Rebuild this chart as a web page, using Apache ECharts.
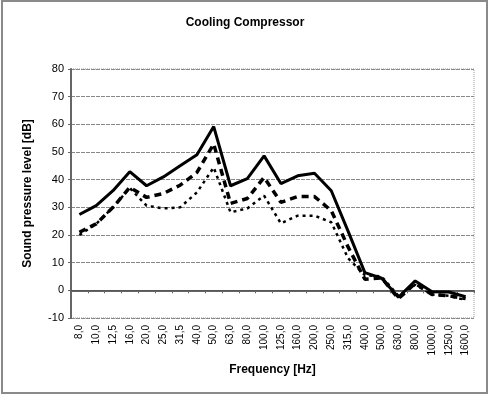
<!DOCTYPE html>
<html>
<head>
<meta charset="utf-8">
<script src="https://cdn.jsdelivr.net/npm/echarts@6/dist/echarts.min.js"></script>
<style>
html,body{margin:0;padding:0;background:#fff;}
#chart{width:490px;height:396px;}
</style>
</head>
<body>
<div id="chart"></div>
<script>
var categories = ['8,0','10,0','12,5','16,0','20,0','25,0','31,5','40,0','50,0','63,0','80,0','100,0','125,0','160,0','200,0','250,0','315,0','400,0','500,0','630,0','800,0','1000,0','1250,0','1600,0'];
var solidSeries = [27.4, 30.6, 36, 42.9, 37.8, 41, 45, 49, 59.2, 37.8, 40.4, 48.6, 38.6, 41.4, 42.3, 36, 21.4, 6.4, 4.4, -2.5, 3.4, -0.5, -0.6, -2.3];
var dashedSeries = [21, 24, 30, 37.2, 33.6, 35, 38, 42.6, 52.9, 31.4, 33.2, 40.8, 31.8, 33.9, 33.9, 28.8, 15.7, 4, 4.5, -3, 2.5, -1.5, -2, -3];
var dottedSeries = [20, 24, 30, 37, 30.6, 29.6, 30, 35.4, 44.4, 28.2, 29.6, 34.2, 24.2, 27, 27, 24.6, 11.6, 5.5, 5, -2, 2, -1.5, -2, -3.5];
var yTicks = {min: -10, max: 80, interval: 10};

var chart = echarts.init(document.getElementById('chart'), null, {renderer: 'canvas'});
var font = 'Liberation Sans, Arial, sans-serif';
chart.setOption({
  animation: false,
  backgroundColor: '#fff',
  title: {
    text: 'Cooling Compressor',
    left: 'center',
    top: 12,
    textStyle: {fontFamily: font, fontSize: 12, fontWeight: 'bold', color: '#000'}
  },
  graphic: [{
    type: 'rect',
    shape: {x: 2, y: 1, width: 485, height: 392},
    style: {fill: 'none', stroke: '#8a8a8a', lineWidth: 2},
    silent: true
  }],
  grid: {
    left: 71, right: 16, top: 69, bottom: 78,
    show: true, borderColor: '#999', borderWidth: 1, borderType: 'dotted'
  },
  xAxis: {
    type: 'category',
    data: categories,
    boundaryGap: true,
    name: 'Frequency [Hz]',
    nameLocation: 'middle',
    nameGap: 45,
    nameTextStyle: {fontFamily: font, fontSize: 12, fontWeight: 'bold', color: '#000'},
    axisLine: {lineStyle: {color: '#666', width: 2}},
    axisTick: {show: true, interval: 0, length: 3, lineStyle: {color: '#666'}},
    axisLabel: {interval: 0, rotate: 90, fontFamily: font, fontSize: 10, color: '#000', margin: 7},
    splitLine: {show: false}
  },
  yAxis: {
    type: 'value',
    min: yTicks.min, max: yTicks.max, interval: yTicks.interval,
    name: 'Sound pressure level [dB]',
    nameLocation: 'middle',
    nameGap: 37,
    nameTextStyle: {fontFamily: font, fontSize: 12, fontWeight: 'bold', color: '#000'},
    axisLine: {show: true, lineStyle: {color: '#666', width: 2}},
    axisTick: {show: true, length: 3, lineStyle: {color: '#666'}},
    axisLabel: {fontFamily: font, fontSize: 11, color: '#000', margin: 7},
    splitLine: {show: true, lineStyle: {color: '#888', width: 1, type: [4, 1]}}
  },
  series: [
    {
      type: 'line', data: solidSeries, symbol: 'none',
      lineStyle: {color: '#000', width: 3, type: 'solid'},
      z: 5,
      markLine: {
        silent: true, symbol: 'none', label: {show: false},
        lineStyle: {color: '#555', width: 1, type: 'solid'},
        data: [{yAxis: 0}]
      }
    },
    {
      type: 'line', data: dashedSeries, symbol: 'none',
      lineStyle: {color: '#000', width: 3.5, type: [7, 5]},
      z: 4
    },
    {
      type: 'line', data: dottedSeries, symbol: 'none',
      lineStyle: {color: '#000', width: 2.5, type: [3, 4]},
      z: 3
    }
  ]
});
</script>
</body>
</html>
